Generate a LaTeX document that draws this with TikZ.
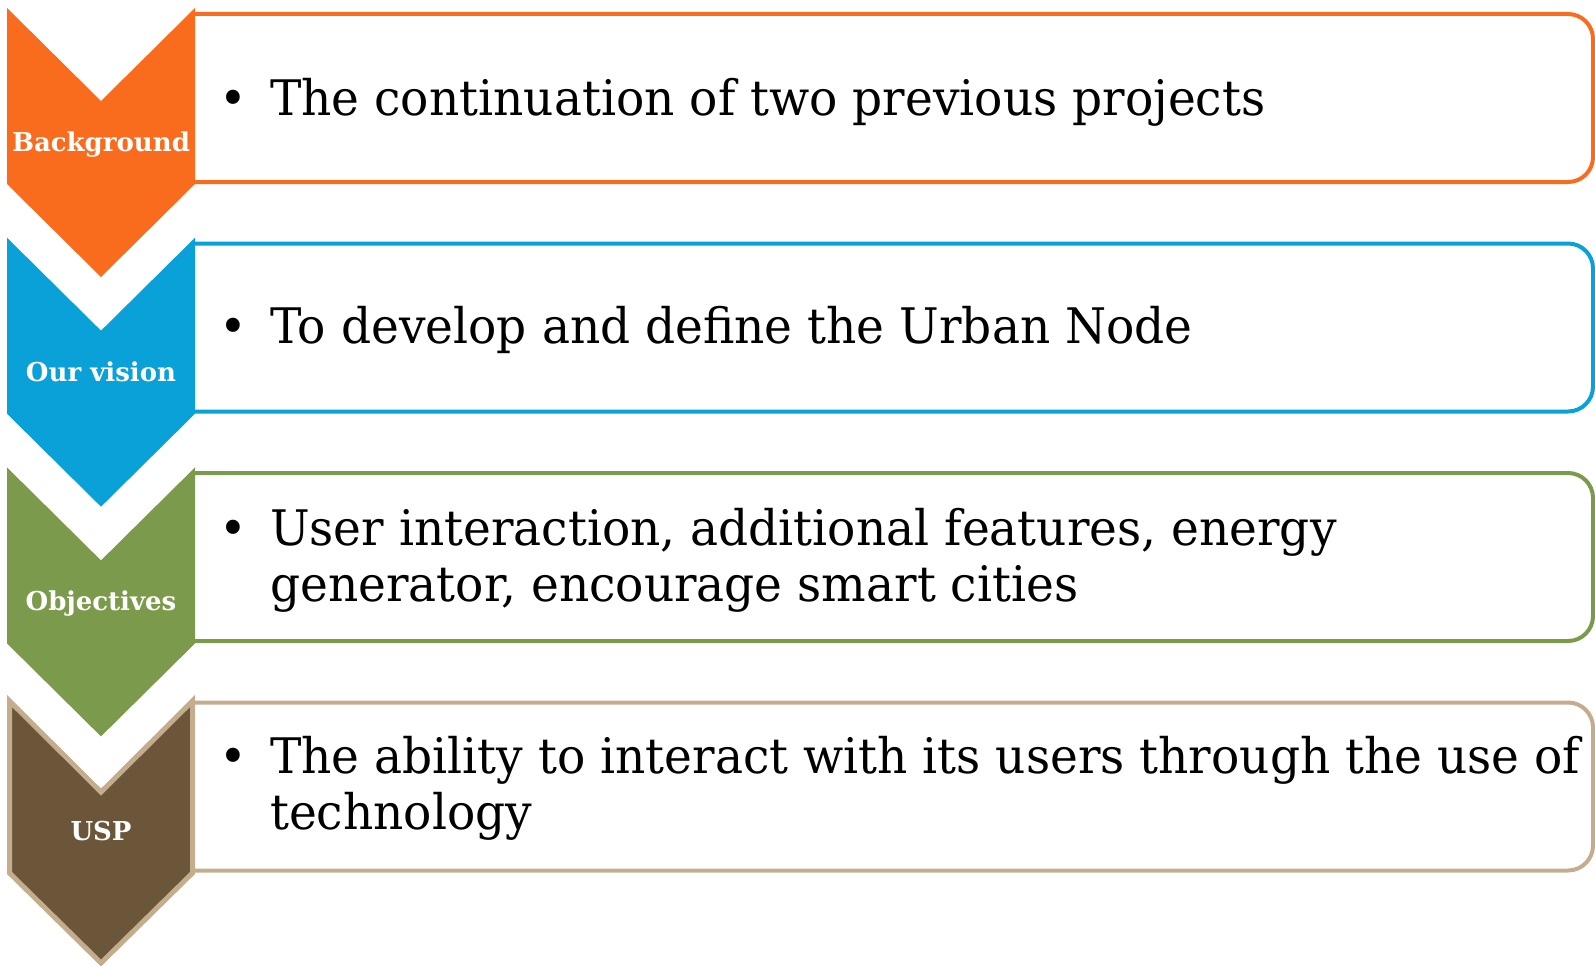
\documentclass[tikz,border=0pt]{standalone}
\usepackage{fontspec}
\setmainfont{DejaVu Serif}
\newfontfamily\bodyfont[FakeStretch=0.96]{DejaVu Serif}
\newfontfamily\labelfont{DejaVu Serif}
\definecolor{cOrange}{RGB}{249,108,30}
\definecolor{cBlue}{RGB}{10,161,217}
\definecolor{cOlive}{RGB}{124,154,76}
\definecolor{cBrown}{RGB}{108,86,57}
\definecolor{cTan}{RGB}{196,173,141}
\tikzset{
  panel/.style={line width=4pt, rounded corners=25pt},
  chevlabel/.style={anchor=base, inner sep=0pt, text=white, font=\labelfont\bfseries\fontsize{26}{30}\selectfont},
  bulletmark/.style={anchor=base, inner sep=0pt, font=\bodyfont\fontsize{49}{57}\selectfont},
  bodytext/.style={anchor=base west, inner sep=0pt, font=\bodyfont\fontsize{49}{57}\selectfont},
}
\begin{document}
\begin{tikzpicture}[x=1pt,y=-1pt]
\useasboundingbox (0,0) rectangle (1595,966);

% content panels (left end tucked behind the chevrons)
\foreach \i/\c in {0/cOrange,1/cBlue,2/cOlive,3/cTan}{
  \pgfmathsetmacro{\d}{229.5*\i}
  \draw[panel, draw=\c] (193,14+\d) -- (1593,14+\d) -- (1593,182+\d) -- (193,182+\d);
}

% chevrons
\foreach \i/\c in {0/cOrange,1/cBlue,2/cOlive}{
  \pgfmathsetmacro{\d}{229.7*\i}
  \fill[\c] (7,8+\d) -- (101,101+\d) -- (195,8+\d) -- (195,184+\d) -- (101,277+\d) -- (7,184+\d) -- cycle;
}
\pgfmathsetmacro{\d}{689}
\filldraw[fill=cBrown, draw=cTan, line width=5pt, line join=miter]
  (9.5,8+\d+4) -- (101,101+\d+2) -- (192.5,8+\d+4) -- (192.5,184+\d) -- (101,277+\d-3) -- (9.5,184+\d) -- cycle;

% chevron captions
\node[chevlabel] (lab0) at (101,151.5) {Background};
\node[chevlabel] (lab1) at (101,381) {Our vision};
\node[chevlabel] (lab2) at (101,610.5) {Objectives};
\node[chevlabel] (lab3) at (101,840) {USP};

% panel texts
\node[bulletmark] (b0) at (233,115) {•};
\node[bodytext] (t0) at (270,115) {The continuation of two previous projects};

\node[bulletmark] (b1) at (233,343) {•};
\node[bodytext] (t1) at (270,343) {To develop and define the Urban Node};

\node[bulletmark] (b2) at (233,545) {•};
\node[bodytext] (t2a) at (270,545) {User interaction, additional features, energy};
\node[bodytext] (t2b) at (270,601) {generator, encourage smart cities};

\node[bulletmark] (b3) at (233,773) {•};
\node[bodytext] (t3a) at (270,773) {The ability to interact with its users through the use of};
\node[bodytext] (t3b) at (270,829) {technology};
\end{tikzpicture}
\end{document}
